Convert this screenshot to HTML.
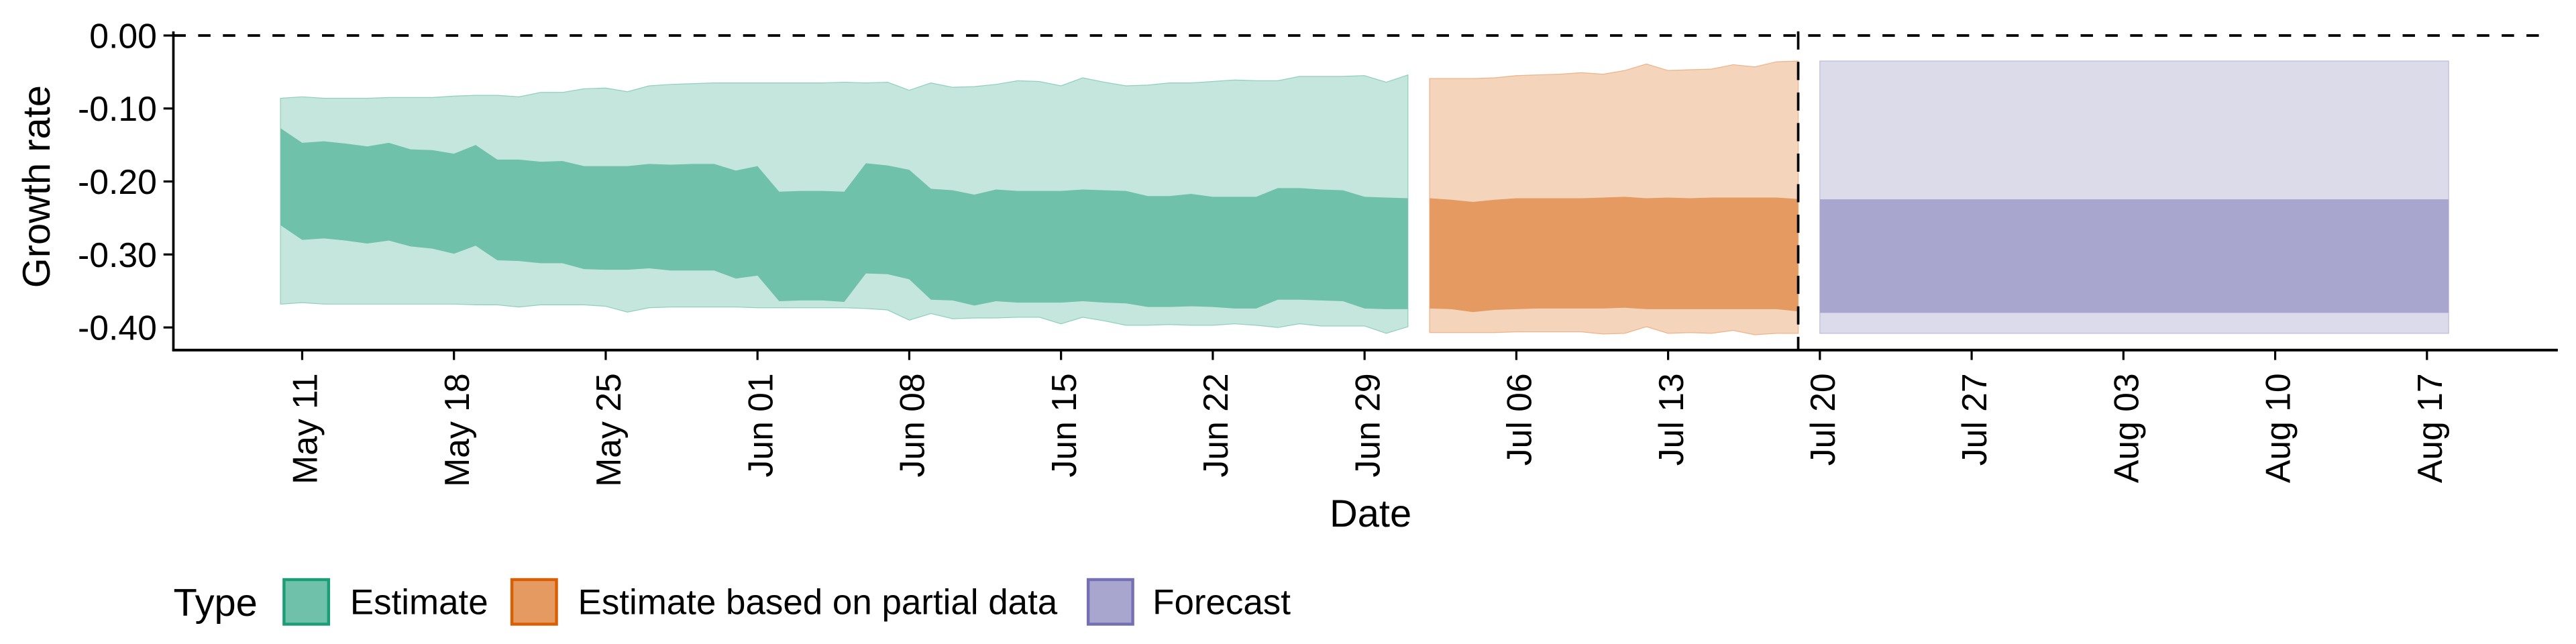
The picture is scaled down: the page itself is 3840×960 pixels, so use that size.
<!DOCTYPE html>
<html><head><meta charset="utf-8">
<style>
html,body{margin:0;padding:0;background:#fff;}
svg{display:block;font-family:"Liberation Sans",sans-serif;}
</style></head>
<body>
<svg id="chart" width="3840" height="960" viewBox="0 0 1560 390" xmlns="http://www.w3.org/2000/svg">
  <g id="bands"></g>
  <g id="axes"></g>
  <text x="0" y="0" transform="translate(30,113) rotate(-90)" text-anchor="middle" font-size="23.5">Growth rate</text>
  <text x="830" y="319" text-anchor="middle" font-size="23.5">Date</text>
  <g>
    <text x="105" y="373" font-size="23.5">Type</text>
    <rect x="172" y="351" width="27" height="27" fill="#6fc1aa" stroke="#1b9e77" stroke-width="1.8"/>
    <text x="212" y="372" font-size="21.5">Estimate</text>
    <rect x="310" y="351" width="27" height="27" fill="#e59a62" stroke="#d95f02" stroke-width="1.8"/>
    <text x="350" y="372" font-size="21.5">Estimate based on partial data</text>
    <rect x="659" y="351" width="27" height="27" fill="#a8a5cf" stroke="#7570b3" stroke-width="1.8"/>
    <text x="698" y="372" font-size="21.5">Forecast</text>
  </g>
</svg>
<script>
// ---- data (days since May 11) ----
const estDays = [];
for (let d = -1; d <= 51; d++) estDays.push(d);
const estUpper90 = [-.086,-.084,-.086,-.086,-.086,-.085,-.085,-.085,-.083,-.082,-.082,-.084,-.078,-.078,-.073,-.072,-.077,-.069,-.067,-.066,-.065,-.065,-.065,-.065,-.065,-.065,-.064,-.065,
  -.064,-.075,-.065,-.071,-.070,-.067,-.062,-.063,-.069,-.058,-.064,-.069,-.068,-.065,-.065,-.063,-.061,-.062,-.062,-.056,-.056,-.056,-.055,-.064,-.054];
const estUpper50 = [-.127,-.147,-.145,-.148,-.152,-.147,-.156,-.157,-.162,-.150,-.170,-.170,-.173,-.172,-.179,-.179,-.179,-.176,-.177,-.176,-.176,-.185,-.179,-.214,-.213,-.213,-.214,-.175,
  -.178,-.184,-.210,-.212,-.218,-.211,-.213,-.213,-.213,-.211,-.212,-.213,-.220,-.220,-.217,-.221,-.221,-.221,-.209,-.209,-.211,-.212,-.221,-.222,-.223];
const estLower50 = [-.260,-.280,-.278,-.281,-.285,-.281,-.289,-.292,-.299,-.288,-.308,-.309,-.312,-.312,-.320,-.321,-.321,-.319,-.322,-.322,-.322,-.333,-.329,-.364,-.363,-.363,-.365,-.326,
  -.327,-.334,-.362,-.363,-.370,-.364,-.366,-.366,-.366,-.364,-.366,-.367,-.372,-.372,-.371,-.372,-.374,-.374,-.362,-.362,-.363,-.364,-.374,-.375,-.375];
const estLower90 = [-.368,-.366,-.368,-.368,-.368,-.368,-.368,-.368,-.368,-.369,-.369,-.372,-.369,-.369,-.369,-.371,-.379,-.373,-.372,-.372,-.372,-.372,-.373,-.373,-.373,-.373,-.373,-.374,
  -.376,-.390,-.381,-.388,-.387,-.387,-.386,-.386,-.395,-.386,-.391,-.397,-.397,-.396,-.397,-.397,-.395,-.397,-.400,-.395,-.398,-.398,-.398,-.408,-.399];

const partDays = [];
for (let d = 52; d <= 69; d++) partDays.push(d);
const partUpper90 = [-.059,-.059,-.059,-.058,-.055,-.054,-.053,-.051,-.053,-.048,-.039,-.048,-.047,-.046,-.040,-.043,-.036,-.035];
const partUpper50 = [-.223,-.225,-.228,-.225,-.223,-.223,-.223,-.223,-.222,-.221,-.223,-.222,-.223,-.222,-.222,-.222,-.222,-.224];
const partLower50 = [-.374,-.375,-.379,-.376,-.375,-.374,-.374,-.374,-.374,-.373,-.375,-.375,-.375,-.375,-.375,-.375,-.375,-.378];
const partLower90 = [-.407,-.407,-.407,-.407,-.406,-.406,-.406,-.406,-.409,-.408,-.399,-.408,-.407,-.408,-.404,-.410,-.408,-.408];

const fcDays = [70, 99];
const fcUpper90 = [-.035, -.035];
const fcUpper50 = [-.2245, -.2245];
const fcLower50 = [-.380, -.380];
const fcLower90 = [-.408, -.408];

const yTicks = [0, -0.1, -0.2, -0.3, -0.4];
const yTickLabels = ["0.00", "-0.10", "-0.20", "-0.30", "-0.40"];
const xTickDays = [0, 7, 14, 21, 28, 35, 42, 49, 56, 63, 70, 77, 84, 91, 98];
const xTickLabels = ["May 11","May 18","May 25","Jun 01","Jun 08","Jun 15","Jun 22","Jun 29","Jul 06","Jul 13","Jul 20","Jul 27","Aug 03","Aug 10","Aug 17"];
const cutoffDay = 69;

// ---- scales ----
const X0 = 105, X1 = 1549, Y_AX = 212;
function xs(d) { return 183 + d * 13.13; }
function ys(v) { return 21.5 - v * 442; }

const NS = "http://www.w3.org/2000/svg";
const bands = document.getElementById("bands");
const axes = document.getElementById("axes");

function band(days, up, lo, fill, stroke, name) {
  let pts = [];
  for (let i = 0; i < days.length; i++) pts.push(xs(days[i]).toFixed(2) + "," + ys(up[i]).toFixed(2));
  for (let i = days.length - 1; i >= 0; i--) pts.push(xs(days[i]).toFixed(2) + "," + ys(lo[i]).toFixed(2));
  const p = document.createElementNS(NS, "polygon");
  p.setAttribute("points", pts.join(" "));
  p.setAttribute("fill", fill);
  if (stroke) { p.setAttribute("stroke", stroke); p.setAttribute("stroke-width", "0.5"); }
  
  
  bands.appendChild(p);
}
band(estDays, estUpper90, estLower90, "#c5e6dc", "#8fd0bd", "estimate-90-band");
band(estDays, estUpper50, estLower50, "#6fc1aa", null, "estimate-50-band");
band(partDays, partUpper90, partLower90, "#f4d5bb", "#eeb389", "partial-90-band");
band(partDays, partUpper50, partLower50, "#e59a62", null, "partial-50-band");
band(fcDays, fcUpper90, fcLower90, "#dcdbea", "#bdbadb", "forecast-90-band");
band(fcDays, fcUpper50, fcLower50, "#a8a5cf", null, "forecast-50-band");

function line(x1, y1, x2, y2, w, dash, name) {
  const l = document.createElementNS(NS, "line");
  l.setAttribute("x1", x1); l.setAttribute("y1", y1);
  l.setAttribute("x2", x2); l.setAttribute("y2", y2);
  l.setAttribute("stroke", "#000");
  l.setAttribute("stroke-width", w);
  if (dash) l.setAttribute("stroke-dasharray", dash);
  
  
  axes.appendChild(l);
  return l;
}
function text(x, y, s, size, anchor, transform, name) {
  const t = document.createElementNS(NS, "text");
  t.setAttribute("x", x); t.setAttribute("y", y);
  t.setAttribute("font-size", size);
  t.setAttribute("text-anchor", anchor);
  if (transform) t.setAttribute("transform", transform);
  t.textContent = s;
  
  
  axes.appendChild(t);
}

// zero reference line & cutoff line
line(X0, ys(0), 1542, ys(0), 1.6, "7.5 7.5", "zero-reference-line");
line(xs(cutoffDay), 19, xs(cutoffDay), Y_AX, 1.5, "11 7.5", "forecast-cutoff-line");

// axes
line(X0, 19, X0, Y_AX + 0.7, 1.5, null, "y-axis-line");
line(X0 - 0.7, Y_AX, X1, Y_AX, 1.6, null, "x-axis-line");

for (let i = 0; i < yTicks.length; i++) {
  const y = ys(yTicks[i]);
  line(X0 - 6, y, X0, y, 1.3, null, "y-tick");
  text(X0 - 10, y + 7.5, yTickLabels[i], 21, "end", null, "y-tick-label");
}
for (let i = 0; i < xTickDays.length; i++) {
  const x = xs(xTickDays[i]);
  line(x, Y_AX, x, Y_AX + 6, 1.3, null, "x-tick");
  const bx = x + 9, by = 226;
  text(bx, by, xTickLabels[i], 21, "end", "rotate(-90 " + bx + " " + by + ")", "x-tick-label");
}
</script>
</body></html>
